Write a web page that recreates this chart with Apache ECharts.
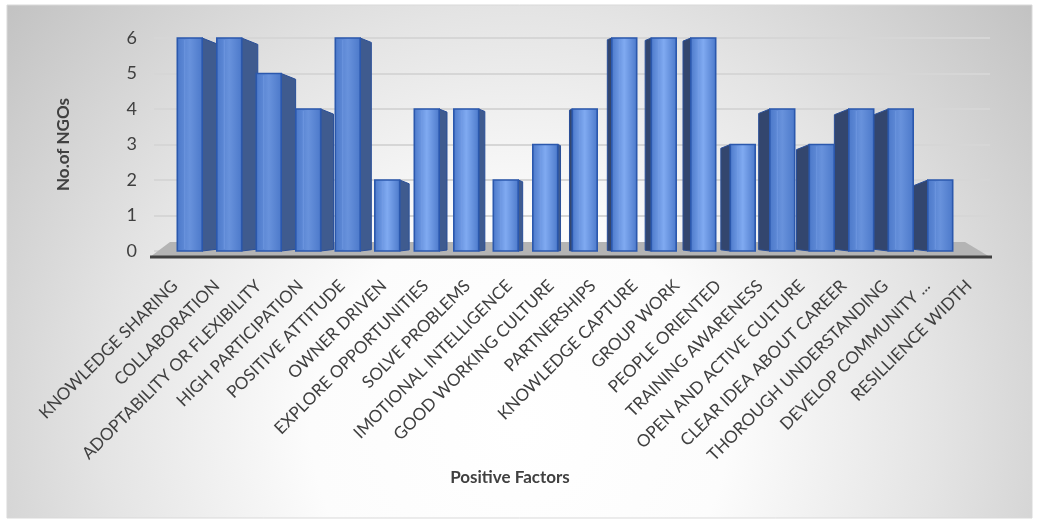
<!DOCTYPE html>
<html>
<head>
<meta charset="utf-8">
<script src="https://cdn.jsdelivr.net/npm/echarts@6/dist/echarts.min.js"></script>
<style>
  html, body { margin: 0; padding: 0; background: #fff; }
  #main { width: 1046px; height: 525px; }
</style>
</head>
<body>
<div id="main"></div>
<script>
var factors = [
  'KNOWLEDGE SHARING', 'COLLABORATION', 'ADOPTABILITY OR FLEXIBILITY', 'HIGH PARTICIPATION',
  'POSITIVE ATTITUDE', 'OWNER DRIVEN', 'EXPLORE OPPORTUNITIES', 'SOLVE PROBLEMS',
  'IMOTIONAL INTELLIGENCE', 'GOOD WORKING CULTURE', 'PARTNERSHIPS', 'KNOWLEDGE CAPTURE',
  'GROUP WORK', 'PEOPLE ORIENTED', 'TRAINING AWARENESS', 'OPEN AND ACTIVE CULTURE',
  'CLEAR IDEA ABOUT CAREER', 'THOROUGH UNDERSTANDING', 'DEVELOP COMMUNITY ...', 'RESILLIENCE WIDTH'
];
var ngoCount = [6, 6, 5, 4, 6, 2, 4, 4, 2, 3, 4, 6, 6, 6, 3, 4, 3, 4, 4, 2];
var yTicks = [0, 1, 2, 3, 4, 5, 6];

var FONT = 'Lato, "Open Sans", sans-serif';
var chart = echarts.init(document.getElementById('main'));

// fake 3D column: front face + a dark side face that leans toward the middle
function renderBar(params, api) {
  var idx = api.value(0);
  var top = api.coord([idx, api.value(1)]);
  var base = api.coord([idx, 0]);
  var w = api.size([1, 0])[0] * 0.63;
  var cs = params.coordSys;
  var vx = cs.x + cs.width * 0.5;
  var dist = top[0] - vx;
  var d = -dist * 0.042 - (dist < 0 ? -2 : 2);
  var dy = Math.abs(d) * 0.4;
  var x0 = top[0] - w / 2, x1 = top[0] + w / 2;
  var edge = d > 0 ? x1 : x0;
  var sideFill = d > 0 ? '#3f5b8f' : '#33466e';
  var light = Math.abs(dist) < 200 ? '#80aaf1' : '#6892dc';
  return {
    type: 'group',
    children: [{
      type: 'polygon',
      z2: 1,
      shape: { points: [[edge, top[1]], [edge + d, top[1] + dy], [edge + d, base[1] - dy * 0.3], [edge, base[1]]] },
      style: { fill: sideFill, stroke: '#2a4f98', lineWidth: 1 }
    }, {
      type: 'rect',
      z2: 2,
      shape: { x: x0, y: top[1], width: w, height: base[1] - top[1] },
      style: {
        fill: new echarts.graphic.LinearGradient(0, 0, 1, 0, [
          { offset: 0, color: '#4b78c9' },
          { offset: 0.5, color: light },
          { offset: 1, color: '#4b78c9' }
        ]),
        stroke: '#2b58ad', lineWidth: 1.6
      }
    }, {
      type: 'line',
      z2: 3,
      shape: { x1: x0 + w * 0.3, y1: top[1] + 2, x2: x0 + w * 0.3, y2: base[1] - 2 },
      style: { stroke: 'rgba(120,160,230,0.6)', lineWidth: 1 }
    }]
  };
}

chart.setOption({
  backgroundColor: '#ffffff',
  animation: false,
  grid: [
    { left: 170, right: 86, top: 38, bottom: 274 },
    // labels and gridlines sit along the wider floor
    { left: 154, right: 56, top: 38, bottom: 274 }
  ],
  xAxis: [{
    type: 'category',
    gridIndex: 0,
    data: factors,
    axisLine: { show: false },
    axisTick: { show: false },
    axisLabel: { show: false }
  }, {
    type: 'category',
    gridIndex: 1,
    data: factors,
    axisLine: { show: false },
    axisTick: { show: false },
    axisLabel: {
      interval: 0, rotate: 45, margin: 32,
      fontFamily: FONT, fontSize: 17, color: '#404040'
    }
  }],
  yAxis: [{
    type: 'value',
    gridIndex: 0,
    min: yTicks[0], max: yTicks[yTicks.length - 1], interval: 1,
    name: 'No.of NGOs',
    nameLocation: 'middle', nameGap: 98,
    nameTextStyle: { fontFamily: FONT, fontSize: 17, fontWeight: 'bold', color: '#404040' },
    axisLine: { show: false },
    axisTick: { show: false },
    axisLabel: { margin: 33, fontFamily: FONT, fontSize: 18, color: '#404040' },
    splitLine: { show: false }
  }, {
    type: 'value',
    gridIndex: 1,
    min: yTicks[0], max: yTicks[yTicks.length - 1], interval: 1,
    axisLine: { show: false },
    axisTick: { show: false },
    axisLabel: { show: false },
    splitLine: { lineStyle: { color: '#d6d6d6', width: 2 } }
  }],
  series: [{
    type: 'custom',
    renderItem: renderBar,
    data: ngoCount.map(function (v, i) { return [i, v]; }),
    encode: { x: 0, y: 1 },
    z: 3
  }]
});

// background panel, floor and base line from the grid position
var p0 = chart.convertToPixel({ gridIndex: 0 }, [0, 0]);
var gl = 170, gr = 1046 - 86, by = p0[1];
chart.setOption({
  graphic: [{
    type: 'rect', z: -10, silent: true,
    shape: { x: 7, y: 5, width: 1025, height: 513 },
    style: {
      fill: new echarts.graphic.RadialGradient(0.5, 0.82, 1.35, [
        { offset: 0, color: '#ffffff' },
        { offset: 0.3, color: '#fcfcfc' },
        { offset: 0.6, color: '#e4e4e4' },
        { offset: 1, color: '#bebebe' }
      ]),
      stroke: '#d9d9d9', lineWidth: 1
    }
  }, {
    type: 'polygon', z: 1, silent: true,
    shape: { points: [[gl, by - 9], [gr + 5, by - 9], [gr + 30, by + 6], [gl - 20, by + 6]] },
    style: { fill: '#b4b4b4' }
  }, {
    type: 'line', z: 2, silent: true,
    shape: { x1: gl - 20, y1: by + 6, x2: gr + 32, y2: by + 6 },
    style: { stroke: '#404040', lineWidth: 3 }
  }, {
    type: 'text', z: 5,
    style: {
      text: 'Positive Factors', x: 510, y: 478, align: 'center', verticalAlign: 'middle',
      font: 'bold 17px ' + FONT, fill: '#404040'
    }
  }]
});
</script>
</body>
</html>
